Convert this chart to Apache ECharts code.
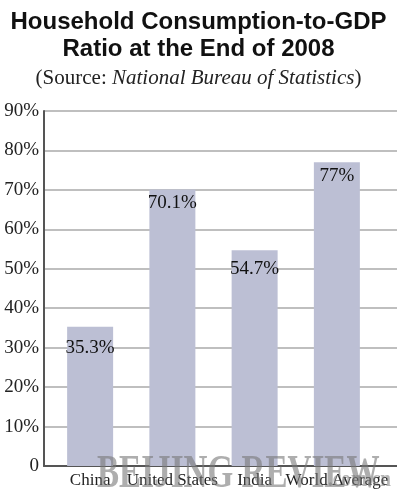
<!DOCTYPE html>
<html><head><meta charset="utf-8">
<script src="https://cdn.jsdelivr.net/npm/echarts@6/dist/echarts.min.js"></script>
<style>html,body{margin:0;padding:0;background:#fff}#c{width:397px;height:500px}</style>
</head><body><div id="c"></div>
<script>
var categories = ['China', 'United States', 'India', 'World Average'];
var values = [35.3, 70.1, 54.7, 77];
var valueLabels = ['35.3%', '70.1%', '54.7%', '77%'];
var yTicks = [0, 10, 20, 30, 40, 50, 60, 70, 80, 90];

var labelShift = [8, 0, 5, 0];
var chart = echarts.init(document.getElementById('c'));
var serif = '"Liberation Serif", "DejaVu Serif", serif';
chart.setOption({
  animation: false,
  backgroundColor: '#fff',
  title: [{
    text: 'Household Consumption-to-GDP\nRatio at the End of 2008',
    left: 'center', top: 4,
    textStyle: { fontFamily: '"Liberation Sans", Arial, sans-serif', fontWeight: 'bold', fontSize: 24, lineHeight: 27, color: '#111' }
  }, {
    text: '{n|(Source: }{i|National Bureau of Statistics}{n|)}',
    left: 'center', top: 63,
    textStyle: { fontWeight: 'normal', rich: {
      n: { fontFamily: serif, fontSize: 21, fontWeight: 'normal', color: '#222' },
      i: { fontFamily: serif, fontSize: 21, fontWeight: 'normal', fontStyle: 'italic', color: '#222' }
    } }
  }],
  grid: [
    { left: 49, right: 19, top: 111, bottom: 34 },
    { left: 44, right: 0, top: 111, bottom: 34 }
  ],
  xAxis: [{
    type: 'category', gridIndex: 0, data: categories,
    axisLine: { show: false }, axisTick: { show: false },
    axisLabel: { fontFamily: serif, fontSize: 17, color: '#222', margin: 6, interval: 0 }
  }, {
    type: 'value', gridIndex: 1, min: 0, max: 1, show: true,
    axisLine: { show: true, onZero: false, lineStyle: { color: '#555', width: 2 } },
    axisTick: { show: false }, axisLabel: { show: false }, splitLine: { show: false }
  }],
  yAxis: [{
    type: 'value', gridIndex: 0, min: 0, max: 90, interval: 10,
    axisLine: { show: false }, axisTick: { show: false }, axisLabel: { show: false },
    splitLine: { show: false }
  }, {
    type: 'value', gridIndex: 1, min: 0, max: 90, interval: 10,
    axisLine: { show: true, lineStyle: { color: '#555', width: 2 } },
    axisTick: { show: false },
    splitLine: { show: true, lineStyle: { color: '#aaa', width: 1.5 } },
    axisLabel: { fontFamily: serif, fontSize: 19, color: '#222', margin: 5,
      formatter: function (v) { return v === 0 ? '0' : v + '%'; } }
  }],
  series: [{
    type: 'bar', xAxisIndex: 0, yAxisIndex: 0, barWidth: 46, z: 3,
    data: values.map(function (v, i) { return { value: v, label: { offset: [0, labelShift[i]] } }; }),
    itemStyle: { color: '#bcbfd4' },
    label: { show: true, position: 'insideTop', distance: 4, fontFamily: serif, fontSize: 19, color: '#111',
      formatter: function (p) { return valueLabels[p.dataIndex]; } }
  }],
  graphic: [{
    type: 'text', left: 97, top: 452, z: 100, silent: true,
    style: { text: 'BEIJING REVIEW', font: 'bold 46px "Liberation Serif", serif', fill: 'rgba(120,120,120,0.6)' },
    scaleX: 0.72
  }, {
    type: 'text', left: 328, top: 468, z: 100, silent: true,
    style: { text: '.com.cn', font: 'bold 24px "Liberation Serif", serif', fill: 'rgba(120,120,120,0.55)' },
    scaleX: 0.8
  }]
});
</script></body></html>
